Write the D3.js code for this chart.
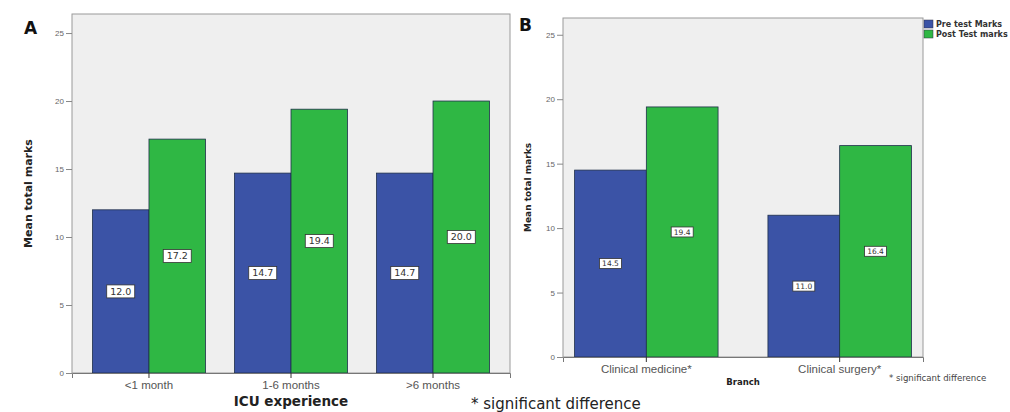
<!DOCTYPE html>
<html>
<head>
<meta charset="utf-8">
<script src="https://cdn.jsdelivr.net/npm/d3@7"></script>
<style>
  html, body { margin: 0; padding: 0; background: #fff; }
  svg { display: block; font-family: "DejaVu Sans", sans-serif; }
</style>
</head>
<body>
<svg id="chart" width="1010" height="412"></svg>
<script>
// Panel A: mean total marks by ICU experience
const groupsA = ["<1 month", "1-6 months", ">6 months"];
const preA = [12.0, 14.7, 14.7];
const postA = [17.2, 19.4, 20.0];

// Panel B: mean total marks by branch
const groupsB = ["Clinical medicine*", "Clinical surgery*"];
const preB = [14.5, 11.0];
const postB = [19.4, 16.4];

const yTicks = [0, 5, 10, 15, 20, 25];
const seriesNames = ["Pre test Marks", "Post Test marks"];
const seriesColors = ["#3b53a6", "#2fb744"];

const svg = d3.select("#chart");

function panel(cfg) {
  const g = svg.append("g");
  const x = d3.scaleBand().domain(cfg.groups)
    .range([cfg.left, cfg.right]).paddingInner(cfg.padIn).paddingOuter(cfg.padOut);
  const y = d3.scaleLinear().domain([0, cfg.yMax]).range([cfg.bottom, cfg.top]);
  const sub = d3.scaleBand().domain([0, 1]).range([0, x.bandwidth()]);

  // plot background + frame
  g.append("rect")
    .attr("x", cfg.left).attr("y", cfg.top)
    .attr("width", cfg.right - cfg.left).attr("height", cfg.bottom - cfg.top)
    .attr("fill", "#efefef").attr("stroke", "#9a9a9a").attr("stroke-width", 1);

  // bars
  const rows = cfg.groups.map((d, i) => ({ group: d, vals: [cfg.pre[i], cfg.post[i]] }));
  const grp = g.selectAll("g.grp").data(rows).join("g")
    .attr("transform", d => `translate(${x(d.group)},0)`);
  grp.selectAll("rect").data(d => d.vals).join("rect")
    .attr("x", (d, j) => sub(j))
    .attr("y", d => y(d))
    .attr("width", sub.bandwidth())
    .attr("height", d => y(0) - y(d))
    .attr("fill", (d, j) => seriesColors[j])
    .attr("stroke", "#1f2f4a").attr("stroke-width", 0.8);

  // value labels at the middle of each bar
  const lab = grp.selectAll("g.lab").data(d => d.vals).join("g")
    .attr("transform", (d, j) => `translate(${sub(j) + sub.bandwidth() / 2},${y(d / 2)})`);
  lab.append("rect")
    .attr("x", -cfg.boxW / 2).attr("y", -cfg.boxH / 2)
    .attr("width", cfg.boxW).attr("height", cfg.boxH)
    .attr("fill", "#fff").attr("stroke", "#333").attr("stroke-width", 0.8);
  lab.append("text")
    .attr("text-anchor", "middle").attr("dy", "0.35em")
    .attr("font-size", cfg.labFont).attr("fill", "#333")
    .text(d => d.toFixed(1));

  // y axis
  const ya = g.append("g").attr("transform", `translate(${cfg.left},0)`)
    .call(d3.axisLeft(y).tickValues(yTicks).tickSize(6).tickPadding(2));
  ya.select(".domain").remove();
  ya.selectAll("line").attr("stroke", "#888");
  ya.selectAll("text").attr("font-size", cfg.tickFont).attr("fill", "#666");

  // x axis
  const xa = g.append("g").attr("transform", `translate(0,${cfg.bottom})`)
    .call(d3.axisBottom(x).tickSize(5).tickPadding(3));
  xa.select(".domain").attr("stroke", "#777");
  xa.selectAll("line").attr("stroke", "#333");
  xa.selectAll("text").attr("font-size", cfg.xFont).attr("fill", "#555");

  // titles
  g.append("text")
    .attr("transform", `translate(${cfg.yTitleX},${(cfg.top + cfg.bottom) / 2}) rotate(-90)`)
    .attr("text-anchor", "middle").attr("font-weight", "bold")
    .attr("font-size", cfg.yTitleFont).attr("fill", "#222")
    .text("Mean total marks");
  g.append("text")
    .attr("x", (cfg.left + cfg.right) / 2).attr("y", cfg.xTitleY)
    .attr("text-anchor", "middle").attr("font-weight", "bold")
    .attr("font-size", cfg.xTitleFont).attr("fill", "#222")
    .text(cfg.xTitle);
  g.append("text")
    .attr("x", cfg.letterX).attr("y", cfg.letterY)
    .attr("font-weight", "bold").attr("font-size", 17).attr("fill", "#111")
    .text(cfg.letter);
  return g;
}

panel({
  groups: groupsA, pre: preA, post: postA,
  left: 72, right: 510, top: 14, bottom: 373, yMax: 26.4,
  padIn: 0.204, padOut: 0.144,
  boxW: 28, boxH: 13, labFont: 9.5, tickFont: 8, xFont: 11.5,
  yTitleX: 32, yTitleFont: 11, xTitle: "ICU experience", xTitleY: 406, xTitleFont: 13.5,
  letter: "A", letterX: 24, letterY: 34
});

panel({
  groups: groupsB, pre: preB, post: postB,
  left: 563, right: 923, top: 18, bottom: 357, yMax: 26.3,
  padIn: 0.258, padOut: 0.06,
  boxW: 22, boxH: 10, labFont: 7.5, tickFont: 8, xFont: 11.5,
  yTitleX: 531, yTitleFont: 9, xTitle: "Branch", xTitleY: 385, xTitleFont: 8.5,
  letter: "B", letterX: 519, letterY: 31
});

// legend at the top right corner
const leg = svg.append("g").selectAll("g").data(seriesNames).join("g")
  .attr("transform", (d, i) => `translate(924,${20 + i * 10})`);
leg.append("rect").attr("width", 9).attr("height", 8)
  .attr("fill", (d, i) => seriesColors[i]).attr("stroke", "#334").attr("stroke-width", 0.5);
leg.append("text").attr("x", 12).attr("y", 7).attr("font-size", 8)
  .attr("font-weight", "bold").attr("fill", "#333").text(d => d);

// significance notes
svg.append("text").attr("x", 889).attr("y", 381).attr("font-size", 8.6)
  .attr("fill", "#444").text("* significant difference");
svg.append("text").attr("x", 471).attr("y", 409).attr("font-size", 15)
  .attr("fill", "#222").text("* significant difference");
</script>
</body>
</html>
